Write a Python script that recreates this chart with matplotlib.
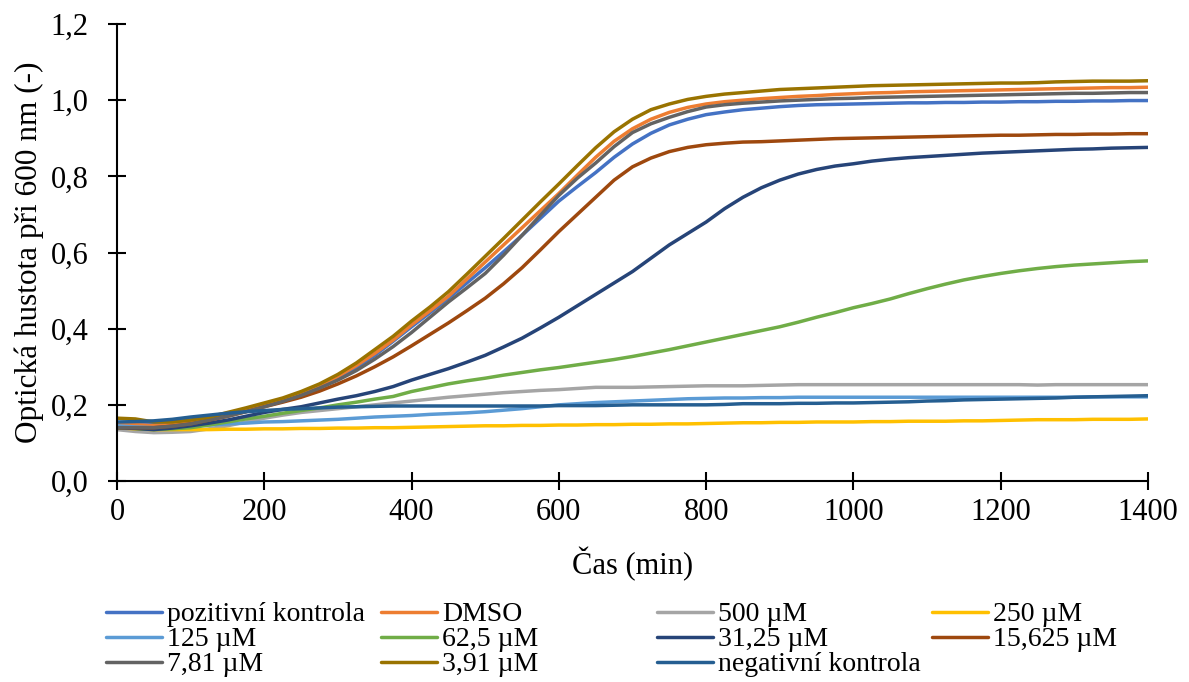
"""
Růstové křivky – optická hustota při 600 nm v čase pro jednotlivé koncentrace.
"""
import matplotlib
matplotlib.use("Agg")
import matplotlib.pyplot as plt
from matplotlib.ticker import FuncFormatter, MultipleLocator

plt.rcParams["font.family"] = ["Liberation Serif", "DejaVu Serif"]

cas = list(range(0, 1401, 25))

pozitivni = [0.150, 0.150, 0.150, 0.154, 0.160, 0.167, 0.175, 0.187, 0.200, 0.214,
             0.230, 0.249, 0.270, 0.298, 0.330, 0.367, 0.405, 0.442, 0.480, 0.520,
             0.560, 0.602, 0.645, 0.690, 0.735, 0.773, 0.810, 0.850, 0.885, 0.913,
             0.935, 0.950, 0.962, 0.969, 0.975, 0.979, 0.983, 0.986, 0.988, 0.989,
             0.990, 0.991, 0.992, 0.993, 0.993, 0.994, 0.994, 0.995, 0.995, 0.996,
             0.996, 0.997, 0.997, 0.998, 0.998, 0.999, 0.999]
dmso = [0.150, 0.148, 0.145, 0.148, 0.155, 0.163, 0.175, 0.187, 0.200, 0.214,
        0.230, 0.250, 0.275, 0.303, 0.335, 0.370, 0.410, 0.447, 0.485, 0.530,
        0.575, 0.620, 0.665, 0.710, 0.755, 0.803, 0.850, 0.892, 0.925, 0.950,
        0.968, 0.981, 0.990, 0.996, 1.000, 1.004, 1.007, 1.010, 1.012, 1.015,
        1.017, 1.019, 1.020, 1.022, 1.023, 1.024, 1.025, 1.026, 1.027, 1.028,
        1.029, 1.030, 1.031, 1.032, 1.033, 1.033, 1.034]
c500 = [0.135, 0.130, 0.127, 0.128, 0.130, 0.137, 0.145, 0.155, 0.165, 0.173,
        0.180, 0.185, 0.190, 0.195, 0.200, 0.205, 0.210, 0.215, 0.220, 0.224,
        0.228, 0.232, 0.235, 0.238, 0.240, 0.243, 0.246, 0.246, 0.246, 0.247,
        0.248, 0.249, 0.250, 0.250, 0.250, 0.251, 0.252, 0.253, 0.253, 0.253,
        0.253, 0.253, 0.253, 0.253, 0.253, 0.253, 0.253, 0.253, 0.253, 0.253,
        0.252, 0.253, 0.253, 0.253, 0.253, 0.253, 0.253]
c250 = [0.140, 0.137, 0.135, 0.135, 0.135, 0.135, 0.136, 0.136, 0.137, 0.137,
        0.138, 0.138, 0.139, 0.139, 0.140, 0.140, 0.141, 0.142, 0.143, 0.144,
        0.145, 0.145, 0.146, 0.146, 0.147, 0.147, 0.148, 0.148, 0.149, 0.149,
        0.150, 0.150, 0.151, 0.152, 0.153, 0.153, 0.154, 0.154, 0.155, 0.155,
        0.155, 0.156, 0.156, 0.157, 0.157, 0.157, 0.158, 0.158, 0.159, 0.160,
        0.161, 0.161, 0.161, 0.162, 0.162, 0.162, 0.163]
c125 = [0.145, 0.142, 0.140, 0.142, 0.145, 0.147, 0.150, 0.152, 0.155, 0.156,
        0.158, 0.160, 0.162, 0.165, 0.168, 0.170, 0.172, 0.175, 0.177, 0.179,
        0.182, 0.186, 0.190, 0.195, 0.200, 0.203, 0.206, 0.208, 0.210, 0.212,
        0.214, 0.216, 0.217, 0.218, 0.218, 0.219, 0.219, 0.220, 0.220, 0.220,
        0.220, 0.220, 0.220, 0.220, 0.220, 0.220, 0.220, 0.220, 0.220, 0.220,
        0.220, 0.220, 0.220, 0.221, 0.221, 0.221, 0.221]
c62_5 = [0.140, 0.138, 0.135, 0.137, 0.140, 0.147, 0.155, 0.163, 0.170, 0.178,
         0.185, 0.192, 0.200, 0.207, 0.215, 0.222, 0.235, 0.245, 0.255, 0.263,
         0.270, 0.278, 0.285, 0.292, 0.298, 0.305, 0.312, 0.319, 0.327, 0.336,
         0.345, 0.355, 0.365, 0.375, 0.385, 0.395, 0.405, 0.417, 0.430, 0.442,
         0.455, 0.466, 0.478, 0.492, 0.505, 0.517, 0.528, 0.537, 0.545, 0.552,
         0.558, 0.563, 0.567, 0.570, 0.573, 0.576, 0.578]
c31_25 = [0.140, 0.138, 0.135, 0.139, 0.145, 0.152, 0.160, 0.170, 0.180, 0.188,
          0.195, 0.205, 0.215, 0.224, 0.235, 0.248, 0.265, 0.280, 0.295, 0.312,
          0.330, 0.352, 0.375, 0.402, 0.430, 0.460, 0.490, 0.520, 0.550, 0.585,
          0.620, 0.650, 0.680, 0.715, 0.745, 0.770, 0.790, 0.806, 0.818, 0.827,
          0.833, 0.840, 0.845, 0.849, 0.852, 0.855, 0.858, 0.861, 0.863, 0.865,
          0.867, 0.869, 0.871, 0.872, 0.874, 0.875, 0.876]
c15_625 = [0.140, 0.140, 0.140, 0.144, 0.150, 0.160, 0.170, 0.182, 0.195, 0.207,
           0.220, 0.236, 0.255, 0.276, 0.300, 0.326, 0.355, 0.385, 0.415, 0.447,
           0.480, 0.518, 0.560, 0.607, 0.655, 0.700, 0.745, 0.790, 0.825, 0.848,
           0.865, 0.876, 0.883, 0.887, 0.890, 0.891, 0.893, 0.895, 0.897, 0.899,
           0.900, 0.901, 0.902, 0.903, 0.904, 0.905, 0.906, 0.907, 0.908, 0.908,
           0.909, 0.910, 0.910, 0.911, 0.911, 0.912, 0.912]
c7_81 = [0.140, 0.140, 0.140, 0.144, 0.150, 0.160, 0.170, 0.182, 0.195, 0.209,
         0.225, 0.244, 0.265, 0.290, 0.320, 0.353, 0.390, 0.430, 0.470, 0.507,
         0.545, 0.593, 0.645, 0.698, 0.750, 0.795, 0.835, 0.878, 0.915, 0.938,
         0.955, 0.970, 0.982, 0.988, 0.992, 0.995, 0.998, 1.000, 1.002, 1.004,
         1.005, 1.007, 1.008, 1.009, 1.010, 1.011, 1.012, 1.013, 1.014, 1.015,
         1.016, 1.017, 1.018, 1.018, 1.019, 1.020, 1.020]
c3_91 = [0.165, 0.163, 0.155, 0.155, 0.160, 0.168, 0.180, 0.192, 0.205, 0.218,
         0.235, 0.255, 0.280, 0.310, 0.345, 0.380, 0.420, 0.457, 0.497, 0.543,
         0.590, 0.637, 0.685, 0.733, 0.780, 0.828, 0.875, 0.917, 0.950, 0.975,
         0.990, 1.002, 1.010, 1.016, 1.020, 1.024, 1.028, 1.030, 1.032, 1.034,
         1.036, 1.038, 1.039, 1.040, 1.041, 1.042, 1.043, 1.044, 1.045, 1.045,
         1.046, 1.048, 1.049, 1.050, 1.050, 1.050, 1.051]
negativni = [0.155, 0.156, 0.158, 0.162, 0.168, 0.173, 0.178, 0.182, 0.185, 0.188,
             0.190, 0.192, 0.194, 0.195, 0.196, 0.197, 0.197, 0.197, 0.197, 0.197,
             0.197, 0.197, 0.197, 0.197, 0.198, 0.198, 0.198, 0.199, 0.200, 0.200,
             0.200, 0.200, 0.200, 0.201, 0.203, 0.203, 0.203, 0.204, 0.204, 0.205,
             0.205, 0.206, 0.207, 0.208, 0.210, 0.211, 0.213, 0.214, 0.215, 0.216,
             0.217, 0.218, 0.220, 0.221, 0.222, 0.223, 0.224]

serie = [
    ("pozitivní kontrola", pozitivni, "#4472C4"),
    ("DMSO", dmso, "#ED7D31"),
    ("500 µM", c500, "#A5A5A5"),
    ("250 µM", c250, "#FFC000"),
    ("125 µM", c125, "#5B9BD5"),
    ("62,5 µM", c62_5, "#70AD47"),
    ("31,25 µM", c31_25, "#264478"),
    ("15,625 µM", c15_625, "#9E480E"),
    ("7,81 µM", c7_81, "#636363"),
    ("3,91 µM", c3_91, "#997300"),
    ("negativní kontrola", negativni, "#255E91"),
]

fig = plt.figure(figsize=(11.89, 6.82), dpi=100)
ax = fig.add_axes([0.0984, 0.2947, 0.8671, 0.6701])

cary = []
for nazev, hodnoty, barva in serie:
    cara, = ax.plot(cas, hodnoty, color=barva, linewidth=2.5, label=nazev,
                    solid_capstyle="round", solid_joinstyle="round")
    cary.append(cara)

ax.set_xlim(0, 1400)
ax.set_ylim(0, 1.2)
ax.xaxis.set_major_locator(MultipleLocator(200))
ax.yaxis.set_major_locator(MultipleLocator(0.2))
ax.yaxis.set_major_formatter(FuncFormatter(lambda v, p: f"{v:.1f}".replace(".", ",")))

for strana in ("top", "right"):
    ax.spines[strana].set_visible(False)
for strana in ("left", "bottom"):
    ax.spines[strana].set_linewidth(1.5)
ax.tick_params(direction="inout", length=13, width=1.5, labelsize=22)
ax.tick_params(axis="y", pad=14)
ax.tick_params(axis="x", pad=6)

ax.set_xlabel("Čas (min)", fontsize=22, labelpad=14)
ax.set_ylabel("Optická hustota při 600 nm (-)", fontsize=22.5, labelpad=5)

# legenda ve čtyřech sloupcích se stejnou šířkou, řazená po řádcích
sloupce_x = [106 / 1189, 381 / 1189, 657 / 1189, 932 / 1189]
for i, x in enumerate(sloupce_x):
    polozky = cary[i::4]
    fig.legend(handles=polozky, labels=[c.get_label() for c in polozky],
               loc="upper left", bbox_to_anchor=(x, 1 - 602 / 682),
               frameon=False, borderpad=0, borderaxespad=0,
               handlelength=2.0, handletextpad=0.2, labelspacing=-0.02,
               fontsize=20)

fig.savefig("out.png", dpi=100)
plt.close(fig)
